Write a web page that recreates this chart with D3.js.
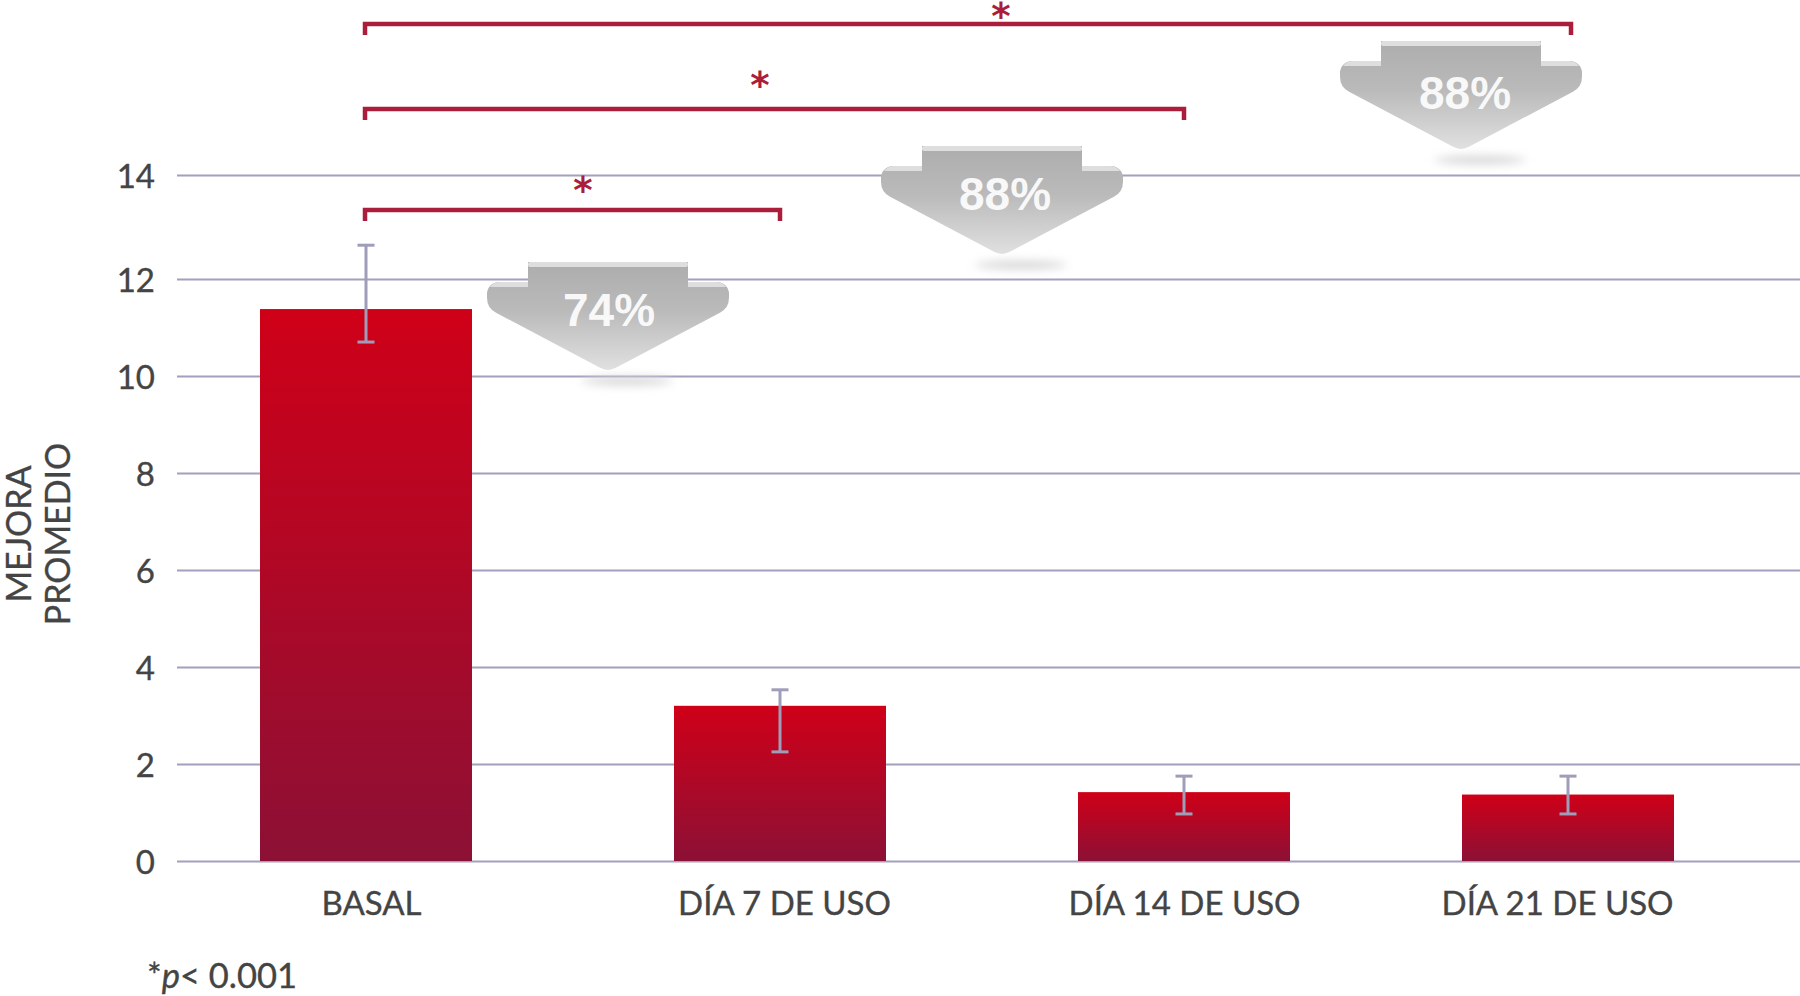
<!DOCTYPE html>
<html>
<head>
<meta charset="utf-8">
<script src="https://cdn.jsdelivr.net/npm/d3@7"></script>
<style>
  html, body { margin: 0; background: #fff; }
  svg { display: block; }
  text { font-family: Lato, "Open Sans", sans-serif; fill: #444; stroke: #444; stroke-width: 0.35px; }
</style>
</head>
<body>
<svg id="chart" width="1800" height="996"></svg>
<script>
var categories = ["BASAL", "DÍA 7 DE USO", "DÍA 14 DE USO", "DÍA 21 DE USO"];
var means = [11.38, 3.2, 1.42, 1.37];
var errLow = [10.7, 2.25, 0.97, 0.97];
var errHigh = [12.65, 3.53, 1.75, 1.75];
var yTicks = [0, 2, 4, 6, 8, 10, 12, 14];
var reductions = ["74%", "88%", "88%"];
var comparedTo = ["DÍA 7 DE USO", "DÍA 14 DE USO", "DÍA 21 DE USO"];

var width = 1800, barWidth = 212;
var svg = d3.select("#chart");

// The gridlines of the picture are not evenly spaced above 12.
var y = d3.scaleLinear().domain([0, 12, 14]).range([861, 279, 175]);
var x = d3.scaleOrdinal().domain(categories).range([366, 780, 1184, 1568]);
var labelX = d3.scaleOrdinal().domain(categories).range([371, 784, 1184, 1557]);
var bracketY = d3.scaleOrdinal().domain(comparedTo).range([210, 109, 24]);
var bracketEnd = d3.scaleOrdinal().domain(comparedTo).range([780, 1184, 1571]);
var arrowX = d3.scaleOrdinal().domain(comparedTo).range([608, 1002, 1461]);
var arrowY = d3.scaleOrdinal().domain(comparedTo).range([262, 146, 41]);
var arrowTextX = d3.scaleOrdinal().domain(comparedTo).range([1, 3, 4]);
var arrowTextY = d3.scaleOrdinal().domain(comparedTo).range([64, 64, 68]);
var starX = d3.scaleOrdinal().domain(comparedTo).range([583, 760, 1001]);
var starY = d3.scaleOrdinal().domain(comparedTo).range([184, 79, 10]);

var defs = svg.append("defs");

var barGrad = defs.append("linearGradient").attr("id", "barGrad")
  .attr("x1", 0).attr("y1", 0).attr("x2", 0).attr("y2", 1);
barGrad.append("stop").attr("offset", "0%").attr("stop-color", "#cf0018");
barGrad.append("stop").attr("offset", "100%").attr("stop-color", "#8c1035");

var arrowGrad = defs.append("linearGradient").attr("id", "arrowGrad")
  .attr("x1", 0).attr("y1", 0).attr("x2", 0).attr("y2", 1);
arrowGrad.append("stop").attr("offset", "0%").attr("stop-color", "#adadad");
arrowGrad.append("stop").attr("offset", "45%").attr("stop-color", "#bababa");
arrowGrad.append("stop").attr("offset", "100%").attr("stop-color", "#e0e0e0");

defs.append("filter").attr("id", "soft")
  .attr("x", "-30%").attr("y", "-150%").attr("width", "160%").attr("height", "400%")
  .append("feGaussianBlur").attr("stdDeviation", 5);

// y axis, its ticks double as the gridlines
var yAxis = svg.append("g")
  .attr("transform", "translate(177,0)")
  .call(d3.axisLeft(y).tickValues(yTicks).tickSize(-(width - 177)).tickPadding(22));
yAxis.select(".domain").remove();
yAxis.selectAll("line").attr("stroke", "#a3a0bd").attr("stroke-width", 2);
yAxis.selectAll("text").attr("font-size", 33).style("font-family", "Lato").attr("dy", "0.39em");

// bars
svg.selectAll("rect.bar")
  .data(categories)
  .enter()
  .append("rect")
  .attr("class", "bar")
  .attr("x", function(d) { return x(d) - barWidth / 2; })
  .attr("y", function(d, i) { return y(means[i]); })
  .attr("width", barWidth)
  .attr("height", function(d, i) { return y(0) - y(means[i]); })
  .attr("fill", "url(#barGrad)");

// error bars
var err = svg.selectAll("g.err")
  .data(categories)
  .enter()
  .append("g")
  .attr("class", "err")
  .attr("stroke", "#9f9db9")
  .attr("stroke-width", 3);
err.append("line")
  .attr("x1", function(d) { return x(d); })
  .attr("x2", function(d) { return x(d); })
  .attr("y1", function(d, i) { return y(errHigh[i]); })
  .attr("y2", function(d, i) { return y(errLow[i]); });
err.append("line")
  .attr("x1", function(d) { return x(d) - 8.5; })
  .attr("x2", function(d) { return x(d) + 8.5; })
  .attr("y1", function(d, i) { return y(errHigh[i]); })
  .attr("y2", function(d, i) { return y(errHigh[i]); });
err.append("line")
  .attr("x1", function(d) { return x(d) - 8.5; })
  .attr("x2", function(d) { return x(d) + 8.5; })
  .attr("y1", function(d, i) { return y(errLow[i]); })
  .attr("y2", function(d, i) { return y(errLow[i]); });

// x axis labels
var xAxis = svg.append("g")
  .attr("transform", "translate(0,861)")
  .call(d3.axisBottom(labelX).tickSize(0).tickPadding(31));
xAxis.select(".domain").remove();
xAxis.selectAll("text").attr("font-size", 33).style("font-family", "Lato");

// y title
var yTitle = svg.append("text")
  .attr("transform", "translate(31,534) rotate(-90)")
  .attr("text-anchor", "middle")
  .attr("font-size", 34);
yTitle.append("tspan").attr("x", 0).attr("dy", 0).text("MEJORA");
yTitle.append("tspan").attr("x", 0).attr("dy", 39).text("PROMEDIO");

// significance brackets
svg.selectAll("path.bracket")
  .data(comparedTo)
  .enter()
  .append("path")
  .attr("class", "bracket")
  .attr("fill", "none")
  .attr("stroke", "#aa1e3c")
  .attr("stroke-width", 4.5)
  .attr("d", function(d) {
    var p = d3.path();
    p.moveTo(x(categories[0]) - 1, bracketY(d) + 11);
    p.lineTo(x(categories[0]) - 1, bracketY(d));
    p.lineTo(bracketEnd(d), bracketY(d));
    p.lineTo(bracketEnd(d), bracketY(d) + 11);
    return p.toString();
  });

svg.selectAll("text.star")
  .data(comparedTo)
  .enter()
  .append("text")
  .attr("class", "star")
  .attr("x", function(d) { return starX(d); })
  .attr("y", function(d) { return starY(d) + 19; })
  .attr("text-anchor", "middle")
  .attr("font-size", 37)
  .attr("font-weight", 700)
  .style("font-family", "'DejaVu Sans'")
  .style("fill", "#aa1e3c")
  .style("stroke", "none")
  .text("*");

// Outline of one arrow, origin at the middle of the top edge.
function arrowPath() {
  var p = d3.path(), r = 17;
  p.moveTo(-80, 0);
  p.lineTo(80, 0);
  p.lineTo(80, 20);
  p.arcTo(121, 20, 121, 33, 12);
  p.arcTo(121, 46, 0, 110, r);
  p.arcTo(0, 110, -121, 46, r);
  p.arcTo(-121, 46, -121, 20, r);
  p.arcTo(-121, 20, -80, 20, 12);
  p.lineTo(-80, 20);
  p.closePath();
  return p.toString();
}

var arrows = svg.selectAll("g.arrow")
  .data(comparedTo)
  .enter()
  .append("g")
  .attr("class", "arrow")
  .attr("transform", function(d) { return "translate(" + arrowX(d) + "," + arrowY(d) + ")"; });

arrows.append("ellipse")
  .attr("cx", 19).attr("cy", 119).attr("rx", 46).attr("ry", 4)
  .attr("fill", "#d4d4d4")
  .attr("filter", "url(#soft)");
arrows.append("path")
  .attr("d", arrowPath())
  .attr("fill", "url(#arrowGrad)");
// lighter bevel along the top of the stem and shoulders
arrows.append("rect")
  .attr("x", -80).attr("y", 0).attr("width", 160).attr("height", 5).attr("rx", 2)
  .attr("fill", "#dedede");
arrows.append("path")
  .attr("d", "M-80,20H-108Q-114,20 -118,25H-80Z M80,20H108Q114,20 118,25H80Z")
  .attr("fill", "#dedede");
arrows.append("text")
  .attr("x", function(d) { return arrowTextX(d); })
  .attr("y", function(d) { return arrowTextY(d); })
  .attr("text-anchor", "middle")
  .attr("font-size", 46)
  .attr("font-weight", 700)
  .style("font-family", "'Liberation Sans'")
  .style("fill", "#fff")
  .style("stroke", "none")
  .style("fill-opacity", 0.92)
  .text(function(d, i) { return reductions[i]; });

// footnote
var note = svg.append("text")
  .attr("x", 147)
  .attr("y", 988)
  .attr("font-size", 34.5);
note.append("tspan").text("*");
note.append("tspan").attr("font-style", "italic").text("p");
note.append("tspan").text("< 0.001");
</script>
</body>
</html>
